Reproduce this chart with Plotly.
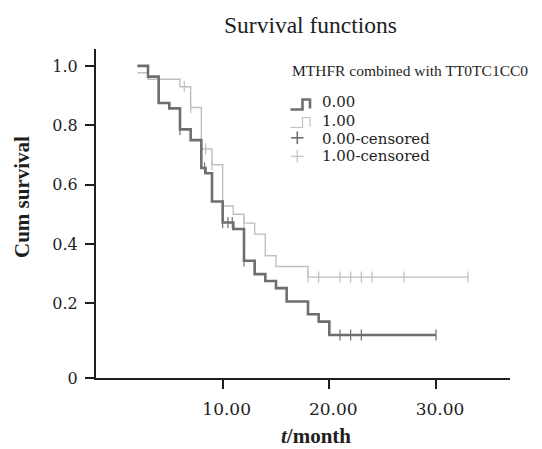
import plotly.graph_objects as go

# ---- data ----
dark_times = [2, 3, 4, 5, 6, 7, 8, 8.4, 9, 10, 11, 12, 13, 14, 15, 16, 18, 19, 20]
dark_surv = [1.0, 0.964, 0.875, 0.857, 0.786, 0.750, 0.656, 0.638, 0.543, 0.472,
             0.450, 0.343, 0.298, 0.275, 0.251, 0.206, 0.163, 0.138, 0.093]
dark_censor = [6, 8.3, 10, 10.5, 10.9, 12, 21, 22, 23, 30]

light_times = [2, 3, 6, 7, 8, 9, 10, 11, 12, 13, 14, 15, 18]
light_surv = [0.977, 0.955, 0.930, 0.860, 0.720, 0.667, 0.528, 0.500, 0.470,
              0.433, 0.360, 0.324, 0.288]
light_censor = [6.4, 7, 8.4, 9, 10, 12, 18, 19, 21, 22, 23, 24, 27, 33]

x_ticks = [10, 20, 30]
x_ticktext = ["10.00", "20.00", "30.00"]
y_ticks = [0.2, 0.4, 0.6, 0.8, 1.0]
y_ticktext = ["0.2", "0.4", "0.6", "0.8", "1.0"]

group_labels = ["0.00", "1.00", "0.00-censored", "1.00-censored"]

DARK = "#6e6e6e"
LIGHT = "#bfbfbf"
AXIS = "#1e1e1e"

# page has an 8px body margin; figure is sized so it fits the 542x449 window
OFF = 8
W, H = 542 - OFF, 449 - OFF
# plot area in window pixels: x 96..510, y 49..378
L, R, T, B = 96 - OFF, 542 - 510, 49 - OFF, 449 - 378
X_RANGE = [-1.875, 36.94]
Y_RANGE = [-0.052, 1.057]


def step_value(times, surv, t):
    v = surv[0]
    for ti, si in zip(times, surv):
        if ti <= t:
            v = si
    return v


def curve(times, surv, censor):
    end = max(censor)
    return list(times) + [end], list(surv) + [surv[-1]]


fig = go.Figure()

for times, surv, cens, col, w in [
    (light_times, light_surv, light_censor, LIGHT, 1.4),
    (dark_times, dark_surv, dark_censor, DARK, 2.6),
]:
    cx, cy = curve(times, surv, cens)
    fig.add_trace(go.Scatter(x=cx, y=cy, mode="lines", line=dict(color=col, width=w, shape="hv"),
                             showlegend=False, hoverinfo="skip"))
    fig.add_trace(go.Scatter(x=cens, y=[step_value(times, surv, t) for t in cens], mode="markers",
                             marker=dict(symbol="line-ns", size=8, line=dict(color=col, width=1.2)),
                             showlegend=False, hoverinfo="skip"))

pw, ph = W - L - R, H - T - B


def px(x):
    # x given in window pixels
    return (x - OFF - L) / pw


def py(y):
    # y given in window pixels
    return (H - B - (y - OFF)) / ph


shapes = []
anns = []

# title
anns.append(dict(text="Survival functions", x=px(310), y=py(25), xref="paper", yref="paper",
                 xanchor="center", yanchor="middle", showarrow=False,
                 font=dict(family="Liberation Serif", size=23.5, color=AXIS)))
# axis titles
anns.append(dict(text="<b><i>t</i>/month</b>", x=px(316), y=py(436), xref="paper", yref="paper",
                 xanchor="center", yanchor="middle", showarrow=False,
                 font=dict(family="Liberation Serif", size=21, color=AXIS)))
anns.append(dict(text="<b>Cum survival</b>", x=px(22), y=py(197), xref="paper", yref="paper",
                 xanchor="center", yanchor="middle", showarrow=False, textangle=-90,
                 font=dict(family="Liberation Serif", size=21, color=AXIS)))
# legend title
anns.append(dict(text="MTHFR combined with TT0TC1CC0", x=px(290), y=py(71), xref="paper", yref="paper",
                 xanchor="left", yanchor="middle", showarrow=False,
                 font=dict(family="Liberation Serif", size=15.5, color=AXIS)))
# legend entries
entry_y = [102, 121, 138.5, 156]
for lab, yy in zip(group_labels, entry_y):
    anns.append(dict(text=lab, x=px(320), y=py(yy), xref="paper", yref="paper",
                     xanchor="left", yanchor="middle", showarrow=False,
                     font=dict(family="DejaVu Serif", size=15, color=AXIS)))


def seg(x0, y0, x1, y1, col, w):
    shapes.append(dict(type="line", xref="paper", yref="paper", x0=px(x0), y0=py(y0),
                       x1=px(x1), y1=py(y1), line=dict(color=col, width=w)))


def step_icon(yb, col, w):
    yt = yb - 10
    path = (f"M {px(290.5)},{py(yb)} L {px(302.5)},{py(yb)} L {px(302.5)},{py(yt)} "
            f"L {px(310)},{py(yt)} L {px(310)},{py(yb - 1)}")
    shapes.append(dict(type="path", xref="paper", yref="paper", path=path,
                       line=dict(color=col, width=w)))


step_icon(109.5, DARK, 2.6)
step_icon(127.5, LIGHT, 1.2)
for cyy, col, w in [(137.8, DARK, 1.6), (156.3, LIGHT, 1.2)]:
    seg(291, cyy, 303.5, cyy, col, w)
    seg(297.3, cyy - 6.3, 297.3, cyy + 6.3, col, w)

fig.update_layout(
    width=W, height=H,
    margin=dict(l=L, r=R, t=T, b=B),
    paper_bgcolor="white", plot_bgcolor="white",
    showlegend=False,
    shapes=shapes, annotations=anns,
    xaxis=dict(range=X_RANGE, tickvals=x_ticks, ticktext=x_ticktext, showgrid=False, zeroline=False,
               showline=True, linecolor=AXIS, linewidth=2, ticks="outside", ticklen=9, tickwidth=2,
               tickcolor=AXIS, ticklabelstandoff=6, ticklabelshift=4,
               tickfont=dict(family="DejaVu Serif", size=17, color=AXIS)),
    yaxis=dict(range=Y_RANGE, tickvals=[Y_RANGE[0]] + y_ticks, ticktext=["0"] + y_ticktext,
               showgrid=False, zeroline=False,
               showline=True, linecolor=AXIS, linewidth=2, ticks="outside", ticklen=9, tickwidth=2,
               tickcolor=AXIS, ticklabelstandoff=4,
               tickfont=dict(family="DejaVu Serif", size=16, color=AXIS)),
)

fig.write_html("out.html")
